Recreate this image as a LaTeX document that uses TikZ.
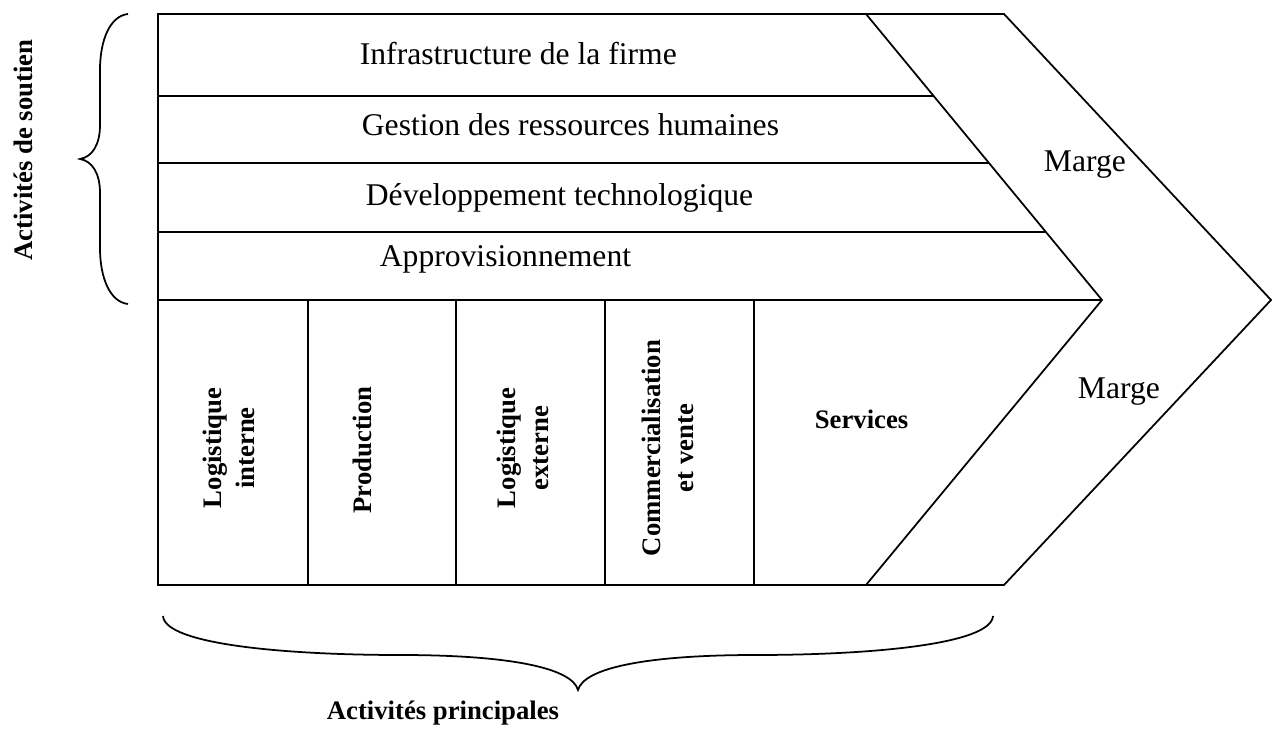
\documentclass[tikz,border=0pt]{standalone}
\usepackage{fontspec}
\setmainfont{Liberation Serif}
\usepackage{tikz}

\begin{document}
\begin{tikzpicture}[x=0.02cm,y=-0.02cm,line width=1pt,
		rowtext/.style={anchor=base west,inner sep=0pt,font=\fontsize{18}{21}\selectfont},
		coltext/.style={rotate=90,align=center,inner sep=0pt,font=\fontsize{15.2}{18.5}\selectfont\bfseries},
		headtext/.style={inner sep=0pt,font=\fontsize{15.2}{18.5}\selectfont\bfseries}]
		\useasboundingbox (0,0) rectangle (1275,749);
		\coordinate (NW) at (158,14);
		\coordinate (SW) at (158,585);
		\coordinate (N1) at (866,14);
		\coordinate (T1) at (1102,300);
		\coordinate (S1) at (866,585);
		\coordinate (N2) at (1004,14);
		\coordinate (T2) at (1271,300);
		\coordinate (S2) at (1004,585);
		\draw (NW) -- (N2) -- (T2) -- (S2) -- (SW) -- cycle;
		\draw (N1) -- (T1) -- (S1);
		\draw (158,300) -- (T1);
		\draw (158,96) -- (933.7,96);
		\draw (158,163) -- (988.9,163);
		\draw (158,232) -- (1045.9,232);
		\foreach \x in {308,456,605,754}
			\draw (\x,300) -- (\x,585);

		\node[rowtext] (infra) at (359,65) {Infrastructure de la firme};
		\node[rowtext] (grh) at (361,136) {Gestion des ressources humaines};
		\node[rowtext] (dev) at (365,206) {Développement technologique};
		\node[rowtext] (appro) at (379,267) {Approvisionnement};
		\node[rowtext] (marge1) at (1043,172) {Marge};
		\node[rowtext] (marge2) at (1077,399) {Marge};

		\node[coltext] (login) at (229,448) {Logistique\\interne};
		\node[coltext] (prod) at (362,450) {Production};
		\node[coltext] (logext) at (523,448) {Logistique\\externe};
		\node[coltext] (comm) at (668,448) {Commercialisation\\et vente};
		\node[headtext,anchor=base west] (serv) at (814,429) {Services};

		\node[headtext,rotate=90] (soutien) at (23,150) {Activités de soutien};
		\node[headtext,anchor=base] (principales) at (443,720) {Activités principales};

		\draw (128,14) .. controls (110,16) and (100,40) .. (100,70) -- (100,125)
			.. controls (100,145) and (92,157) .. (80,159)
			.. controls (92,161) and (100,173) .. (100,193) -- (100,248)
			.. controls (100,278) and (110,302) .. (128,304);
		\draw (163,616) .. controls (165,645) and (290,655) .. (400,655)
			.. controls (510,655) and (572,668) .. (578,690)
			.. controls (584,668) and (646,655) .. (756,655)
			.. controls (866,655) and (991,645) .. (993,616);
	\end{tikzpicture}
\end{document}
